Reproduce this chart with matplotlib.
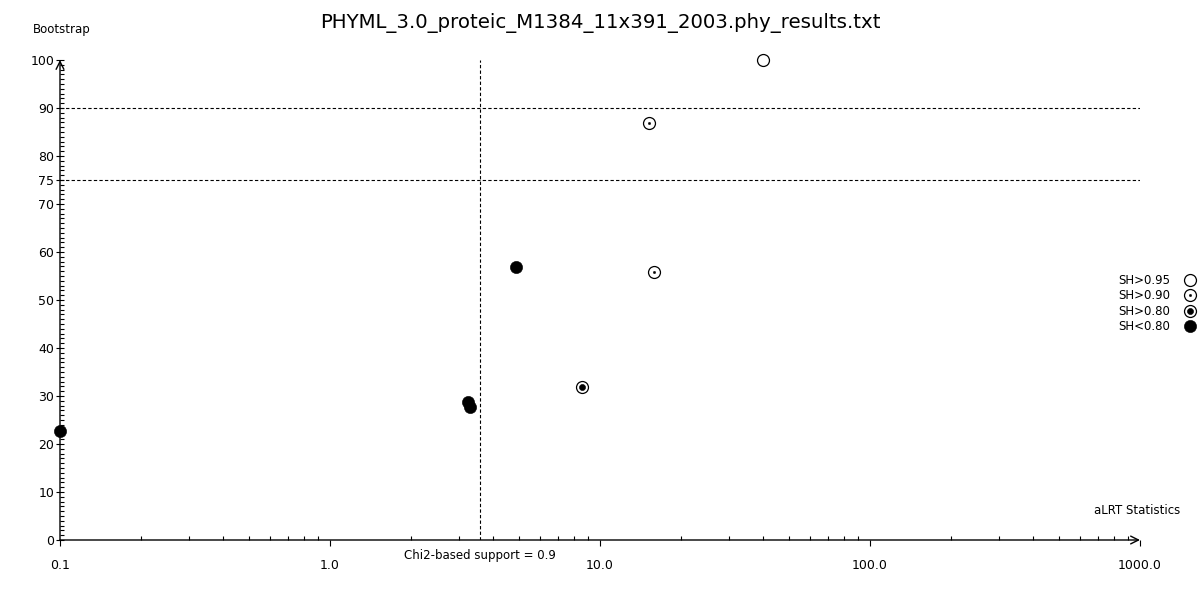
import matplotlib
matplotlib.use("Agg")
import matplotlib.pyplot as plt
from matplotlib.lines import Line2D
from matplotlib.ticker import FixedLocator, NullFormatter, LogLocator

# ---------------------------------------------------------------------------
# Data
# ---------------------------------------------------------------------------
TITLE = "PHYML_3.0_proteic_M1384_11x391_2003.phy_results.txt"

alrt = [40.05, 15.19, 15.81, 8.55, 4.88, 3.24, 3.30, 0.1]
bootstrap = [99.9, 86.8, 55.75, 31.8, 56.8, 28.75, 27.8, 22.8]
sh_class = ["0.95", "0.90", "0.90", "0.80", "low", "low", "low", "low"]

legend_labels = ["SH>0.95", "SH>0.90", "SH>0.80", "SH<0.80"]
legend_classes = ["0.95", "0.90", "0.80", "low"]

chi2_threshold = 3.6
bootstrap_lines = [75, 90]

x_ticks = [0.1, 1.0, 10.0, 100.0, 1000.0]
x_tick_labels = ["0.1", "1.0", "10.0", "100.0", "1000.0"]
y_ticks = [0, 10, 20, 30, 40, 50, 60, 70, 75, 80, 90, 100]

FONT = "DejaVu Sans"
INK = "black"


def marker_styles(cls):
    """Return the list of Line2D style dicts that make up a SH-class marker."""
    outer = dict(marker="o", markersize=8.6, markerfacecolor="white",
                 markeredgecolor=INK, markeredgewidth=0.9, linestyle="none")
    if cls == "0.95":
        return [outer]
    if cls == "0.90":
        return [outer, dict(marker="o", markersize=1.6, markerfacecolor=INK,
                            markeredgecolor=INK, markeredgewidth=0.4, linestyle="none")]
    if cls == "0.80":
        return [outer, dict(marker="o", markersize=4.4, markerfacecolor=INK,
                            markeredgecolor=INK, markeredgewidth=0.4, linestyle="none")]
    return [dict(marker="o", markersize=8.8, markerfacecolor=INK,
                 markeredgecolor=INK, markeredgewidth=0.4, linestyle="none")]


def main():
    fig = plt.figure(figsize=(12, 6), dpi=100)
    ax = fig.add_axes([0.05, 0.1, 0.9, 0.8])
    ax.set_xscale("log")
    ax.set_xlim(0.1, 1000)
    ax.set_ylim(0, 100)

    for spine in ax.spines.values():
        spine.set_visible(False)

    # axes drawn as arrows
    ax.annotate("", xy=(1.0, 0), xytext=(0, 0), xycoords="axes fraction",
                arrowprops=dict(arrowstyle="->", color=INK, lw=1.0,
                                shrinkA=0, shrinkB=0, mutation_scale=14))
    ax.annotate("", xy=(0, 1.0), xytext=(0, 0), xycoords="axes fraction",
                arrowprops=dict(arrowstyle="->", color=INK, lw=1.0,
                                shrinkA=0, shrinkB=0, mutation_scale=14))

    # reference lines
    for level in bootstrap_lines:
        ax.axhline(level, color=INK, lw=0.8, linestyle=(0, (3, 2)), zorder=1)
    ax.axvline(chi2_threshold, color=INK, lw=0.8, linestyle=(0, (3, 2)), zorder=1)

    # ticks
    ax.xaxis.set_major_locator(FixedLocator(x_ticks))
    ax.set_xticklabels(x_tick_labels)
    ax.xaxis.set_minor_locator(LogLocator(base=10, subs=range(2, 10)))
    ax.xaxis.set_minor_formatter(NullFormatter())
    ax.yaxis.set_major_locator(FixedLocator(y_ticks))
    ax.yaxis.set_minor_locator(FixedLocator(range(0, 101)))
    ax.tick_params(axis="x", which="major", direction="out", length=4, width=0.8,
                   labelsize=9, pad=10)
    ax.tick_params(axis="x", which="minor", direction="in", length=3, width=0.8)
    ax.tick_params(axis="y", which="major", direction="inout", length=6, width=0.8,
                   labelsize=9, pad=1)
    ax.tick_params(axis="y", which="minor", direction="in", length=3, width=0.8)
    for lab in ax.get_xticklabels() + ax.get_yticklabels():
        lab.set_family(FONT)

    # points
    for x, y, cls in zip(alrt, bootstrap, sh_class):
        for kw in marker_styles(cls):
            ax.plot([x], [y], clip_on=False, zorder=5, **kw)

    # legend
    handles = []
    for cls in legend_classes:
        handles.append(tuple(Line2D([], [], **kw) for kw in marker_styles(cls)))
    leg = fig.legend(handles, legend_labels, loc="center right",
                     bbox_to_anchor=(1.0035, 0.494), frameon=False, markerfirst=False,
                     fontsize=8.5, handlelength=1.0, handletextpad=1.15,
                     labelspacing=0.22, borderpad=0.2)
    for t in leg.get_texts():
        t.set_family(FONT)

    # texts
    fig.text(0.5, 0.962, TITLE, ha="center", va="center", fontsize=14.2, family=FONT)
    fig.text(33 / 1200, 1 - 30 / 600, "Bootstrap", ha="left", va="center",
             fontsize=8.5, family=FONT)
    fig.text(1180 / 1200, 1 - 510 / 600, "aLRT Statistics", ha="right", va="center",
             fontsize=8.5, family=FONT)
    ax.text(chi2_threshold, -15 / 480, "Chi2-based support = 0.9", ha="center",
            va="center", fontsize=8.5, family=FONT,
            transform=ax.get_xaxis_transform())

    fig.savefig("out.png", dpi=100, facecolor="white")
    plt.close(fig)


if __name__ == "__main__":
    main()
